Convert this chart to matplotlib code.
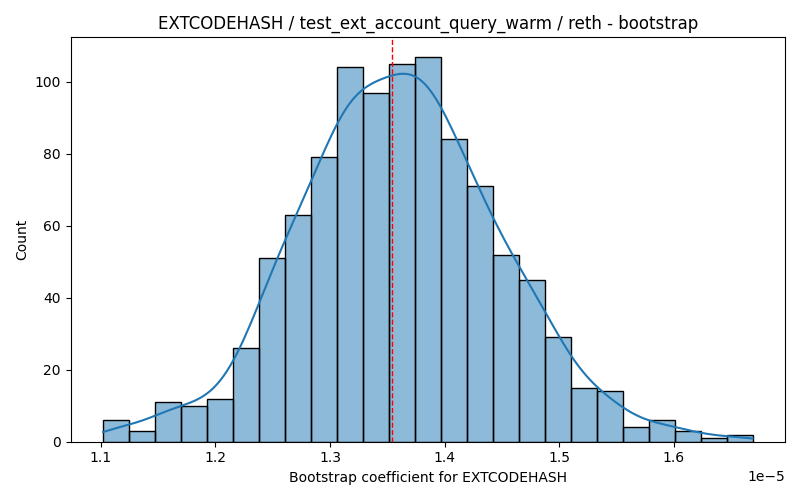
import numpy as np
import matplotlib
matplotlib.use("Agg")
import matplotlib.pyplot as plt

# Data
bin_start = 1.1020e-5
bin_end = 1.6687e-5
counts = [6, 3, 11, 10, 12, 26, 51, 63, 79, 104, 97, 105, 107,
          84, 71, 52, 45, 29, 15, 14, 4, 6, 3, 1, 2]
mean_value = 1.354e-5
title = "EXTCODEHASH / test_ext_account_query_warm / reth - bootstrap"
xlabel = "Bootstrap coefficient for EXTCODEHASH"
ylabel = "Count"

nb = len(counts)
edges = np.linspace(bin_start, bin_end, nb + 1)
width = edges[1] - edges[0]
centers = (edges[:-1] + edges[1:]) / 2
counts_arr = np.array(counts, dtype=float)

fig, ax = plt.subplots(figsize=(8, 5), dpi=100)
ax.bar(edges[:-1], counts_arr, width=width, align="edge",
       color="#1f77b4", alpha=0.5, edgecolor="none")
ax.bar(edges[:-1], counts_arr, width=width, align="edge",
       fill=False, edgecolor="black", linewidth=1.0)

# KDE from reconstructed samples (bin centres weighted by counts)
samples = np.repeat(centers, counts)
n = len(samples)
bw = samples.std(ddof=1) * n ** (-1 / 5)
grid = np.linspace(bin_start, bin_end, 200)
dens = np.exp(-0.5 * ((grid[:, None] - samples[None, :]) / bw) ** 2).sum(axis=1)
dens /= (n * bw * np.sqrt(2 * np.pi))
ax.plot(grid, dens * n * width, color="#1f77b4", linewidth=1.5)

ax.axvline(mean_value, color="red", linestyle="--", linewidth=1)

ax.set_title(title)
ax.set_xlabel(xlabel)
ax.set_ylabel(ylabel)
ax.margins(x=0.05, y=0.05)
fig.tight_layout()
fig.savefig("out.png", dpi=100)
